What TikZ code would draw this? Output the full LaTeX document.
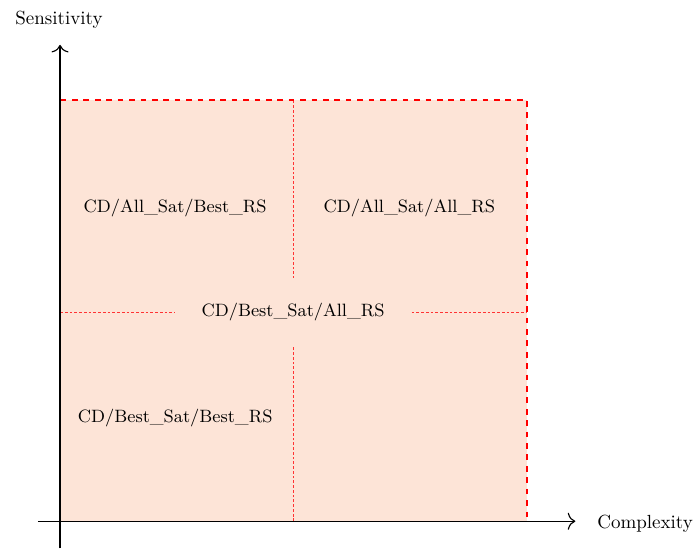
\documentclass[tikz,border=0pt]{standalone}
\usepackage{fontspec}
\setmainfont{Latin Modern Roman}
\usetikzlibrary{arrows.meta}
\definecolor{regionfill}{RGB}{253,228,215}
\tikzset{
  divider/.style={red!80, dash pattern=on 1.5pt off 1pt, line width=0.45pt},
  region/.style={font=\fontsize{9.4}{11}\selectfont},
  axis/.style={-{To[length=4pt,width=9pt]}, semithick}
}
\begin{document}
\begin{tikzpicture}
    \useasboundingbox (-1.11, -0.5) rectangle (11.78, 9.64);
    \fill[regionfill] (0, 0) rectangle (8.64, 7.79);
    \draw[divider] (4.31, 0) -- (4.31, 7.79);
    \draw[divider] (0, 3.87) -- (8.64, 3.87);
    \draw[red, thick, dashed] (0, 0) -- (0, 7.79) -- (8.64, 7.79) -- (8.64, 0);
    \draw[axis] (0, -0.5) -- (0, 8.81);
    \draw[axis] (-0.41, 0) -- (9.53, 0);
    \node (sens) at (-0.02, 9.27) {Sensitivity};
    \node (comp) at (10.82, -0.04) {Complexity};
    \node[region] (allbest) at (2.13, 5.79) {CD/All\_Sat/Best\_RS};
    \node[region] (allall) at (6.46, 5.79) {CD/All\_Sat/All\_RS};
    \node[region, fill=regionfill, minimum width=4.35cm, minimum height=1.24cm] (bestall) at (4.31, 3.87) {CD/Best\_Sat/All\_RS};
    \node[region] (bestbest) at (2.13, 1.91) {CD/Best\_Sat/Best\_RS};
\end{tikzpicture}
\end{document}
